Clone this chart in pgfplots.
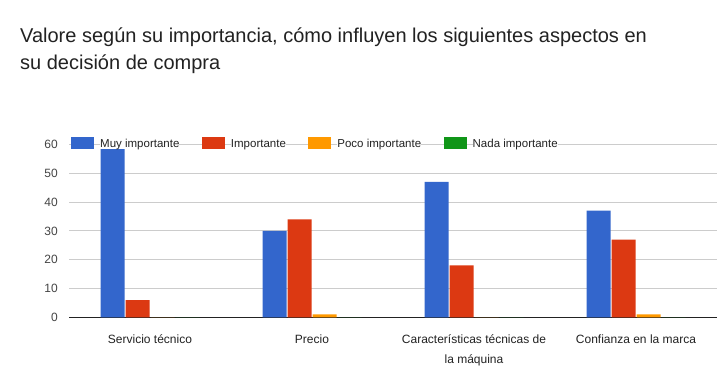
\documentclass[border=0pt]{standalone}
\usepackage{fontspec}
\setmainfont{Liberation Sans}
\usepackage{pgfplots}
\pgfplotsset{compat=1.18}
\definecolor{cblue}{HTML}{3366CC}
\definecolor{cred}{HTML}{DC3912}
\definecolor{corange}{HTML}{FF9900}
\definecolor{cgreen}{HTML}{109618}
\definecolor{gridc}{HTML}{CCCCCC}
\definecolor{txt}{HTML}{222222}
\definecolor{tickc}{HTML}{444444}
\begin{document}
\begin{tikzpicture}[x=1pt,y=1pt]
\useasboundingbox[fill=white] (0,0) rectangle (723,389);
\node[anchor=base west, inner sep=0, text=txt, font=\fontsize{20}{27}\selectfont] at (20,346.3) {Valore según su importancia, cómo influyen los siguientes aspectos en};
\node[anchor=base west, inner sep=0, text=txt, font=\fontsize{20}{27}\selectfont] at (20,319) {su decisión de compra};
\begin{axis}[
  at={(69pt,71.7pt)}, anchor=south west,
  scale only axis, width=648pt, height=172.8pt,
  ymin=0, ymax=60, xmin=-0.5, xmax=3.5,
  ybar=1pt, bar width=24pt,
  xtick={0,1,2,3},
  xticklabels={Servicio técnico, Precio, {Características técnicas de\\la máquina}, Confianza en la marca},
  xticklabel style={align=center, font=\fontsize{12}{20}\selectfont, text=txt, inner sep=0pt, yshift=-17pt},
  ytick={0,10,...,60},
  yticklabel style={font=\fontsize{12}{14}\selectfont, text=tickc, inner sep=0pt, xshift=-11pt},
  /pgf/number format/assume math mode=true,
  ymajorgrids, grid style={draw=gridc, line width=1pt},
  axis x line*=bottom, axis y line*=left,
  x axis line style={draw=txt, line width=1pt, -},
  y axis line style={draw=none},
  major tick length=0pt, tick style={draw=none},
  legend columns=4,
  legend style={at={(0,1)}, anchor=west, xshift=-1pt, yshift=1.4pt, draw=none, fill=none,
    font=\fontsize{11.5}{14}\selectfont, text=txt,
    nodes={inner sep=0pt, fill=white},
    /tikz/every odd column/.append style={column sep=6pt},
    /tikz/every even column/.append style={column sep=22.5pt}},
  legend image code/.code={\fill[#1] (0pt,-4.3pt) rectangle (23pt,7.7pt);},
]
\addplot[fill=cblue, draw=none] coordinates {(0,59) (1,30) (2,47) (3,37)};
\addplot[fill=cred, draw=none] coordinates {(0,6) (1,34) (2,18) (3,27)};
\addplot[fill=corange, draw=none] coordinates {(0,0) (1,1) (2,0) (3,1)};
\addplot[fill=cgreen, draw=none] coordinates {(0,0) (1,0) (2,0) (3,0)};
\legend{Muy importante, Importante, Poco importante, Nada importante}
\end{axis}
\end{tikzpicture}
\end{document}
